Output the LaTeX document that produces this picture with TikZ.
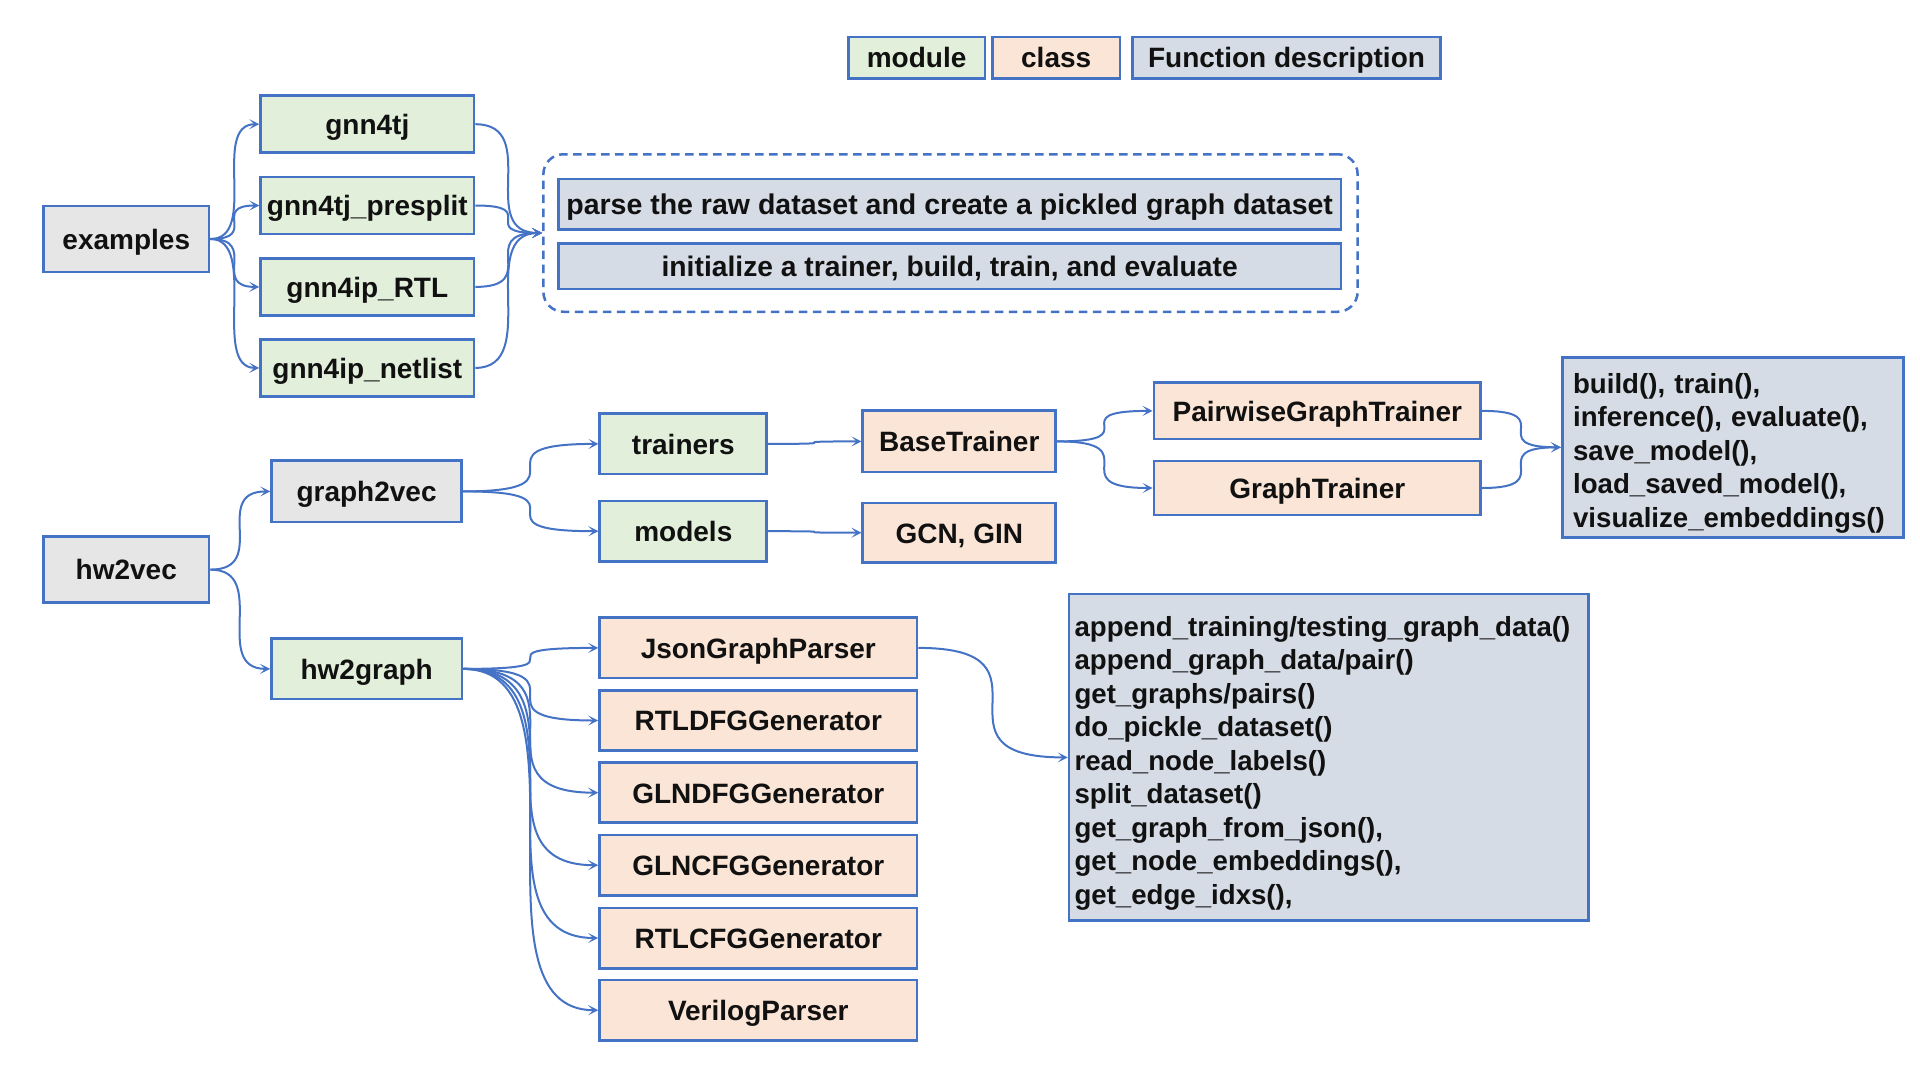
\documentclass[tikz,border=0pt]{standalone}
\usepackage{fontspec}
\setmainfont{Liberation Sans}
\usetikzlibrary{arrows.meta,calc}
\definecolor{bord}{HTML}{4472C4}
\definecolor{modfill}{HTML}{E2EFDA}
\definecolor{clsfill}{HTML}{FBE5D6}
\definecolor{fnfill}{HTML}{D6DCE5}
\definecolor{grfill}{HTML}{E7E6E6}
\definecolor{txt}{HTML}{111111}
\newcommand{\firstlinepad}{\rule{0pt}{12.5pt}}
\begin{document}
\begin{tikzpicture}[x=0.4pt,y=-0.4pt,
 bx/.style={draw=bord, line width=1.1pt, inner sep=0pt, text=txt,
   font=\fontsize{11.2pt}{13.4pt}\selectfont\bfseries},
 one/.style={text height=10.3pt, text depth=2pt},
 modb/.style={bx, one, fill=modfill},
 clsb/.style={bx, one, fill=clsfill},
 fnb/.style={bx, one, fill=fnfill},
 grb/.style={bx, one, fill=grfill},
 listb/.style={bx, fill=fnfill, align=left, font=\fontsize{11.05pt}{13.4pt}\selectfont\bfseries},
 arr/.style={draw=bord, line width=0.8pt, -{Stealth[length=4pt,width=4pt,inset=2pt]}},
 sc/.style={to path={.. controls (\tikztotarget |- \tikztostart) and (\tikztostart |- \tikztotarget) .. (\tikztotarget) \tikztonodes}}
]
\useasboundingbox (0,0) rectangle (1920,1080);

% legend
\node[modb, minimum width=54.7pt, minimum height=16.5pt] (lmod) at (916.6,57.6) {module};
\node[clsb, minimum width=51pt, minimum height=16.5pt] (lcls) at (1056.2,57.6) {class};
\node[fnb, minimum width=123.2pt, minimum height=16.5pt] (lfn) at (1286.5,57.6) {Function description};

% examples part
\node[grb, minimum width=66.2pt, minimum height=26.4pt] (ex) at (126.3,239) {examples};
\node[modb, minimum width=85.3pt, minimum height=22.8pt] (g1) at (367.3,124.2) {gnn4tj};
\node[modb, minimum width=85.3pt, minimum height=22.8pt] (g2) at (367.3,205.5) {gnn4tj\_presplit};
\node[modb, minimum width=85.3pt, minimum height=22.8pt] (g3) at (367.3,286.9) {gnn4ip\_RTL};
\node[modb, minimum width=85.3pt, minimum height=22.8pt] (g4) at (367.3,367.9) {gnn4ip\_netlist};

\node[draw=bord, line width=1pt, dash pattern=on 3.4pt off 2.2pt, rounded corners=8pt,
  minimum width=325.7pt, minimum height=63pt] (dbox) at (950.5,233) {};
\node[fnb, minimum width=313.1pt, minimum height=20.1pt, font=\fontsize{11.4pt}{13.4pt}\selectfont\bfseries] (parse) at (949.7,204.2)
  {parse the raw dataset and create a pickled graph dataset};
\node[fnb, minimum width=313.1pt, minimum height=18.1pt, font=\fontsize{11.3pt}{13.4pt}\selectfont\bfseries] (init) at (949.7,266.4)
  {initialize a trainer, build, train, and evaluate};

% hw2vec part
\node[grb, minimum width=66.2pt, minimum height=26.3pt] (hw) at (126.3,569.6) {hw2vec};
\node[grb, minimum width=76pt, minimum height=24.5pt] (g2v) at (366.6,491.4) {graph2vec};
\node[modb, minimum width=76.2pt, minimum height=24.1pt] (h2g) at (366.7,668.9) {hw2graph};
\node[modb, minimum width=66.8pt, minimum height=24.1pt] (tr) at (683.3,443.9) {trainers};
\node[modb, minimum width=66.8pt, minimum height=24.1pt] (md) at (683.3,531.2) {models};
\node[clsb, minimum width=77.2pt, minimum height=24.5pt] (bt) at (959.3,441.4) {BaseTrainer};
\node[clsb, minimum width=77.2pt, minimum height=23.7pt] (gcn) at (959.3,532.7) {GCN, GIN};
\node[clsb, minimum width=130.7pt, minimum height=22.5pt] (pgt) at (1317.3,410.9) {PairwiseGraphTrainer};
\node[clsb, minimum width=130.7pt, minimum height=21.6pt] (gt) at (1317.3,488) {GraphTrainer};
\node[listb, minimum width=136.6pt, minimum height=72pt, inner xsep=4.3pt, text width=128pt] (l1) at (1733.1,447.3)
  {\firstlinepad build(), train(),\\inference(), evaluate(),\\save\_model(),\\load\_saved\_model(),\\visualize\_embeddings()};

\node[clsb, minimum width=127pt, minimum height=24.1pt] (jgp) at (758.3,647.9) {JsonGraphParser};
\node[clsb, minimum width=127pt, minimum height=24.1pt] (rdfg) at (758.3,720.5) {RTLDFGGenerator};
\node[clsb, minimum width=127pt, minimum height=24.1pt] (gdfg) at (758.3,792.7) {GLNDFGGenerator};
\node[clsb, minimum width=127pt, minimum height=24.1pt] (gcfg) at (758.3,865.2) {GLNCFGGenerator};
\node[clsb, minimum width=127pt, minimum height=24.1pt] (rcfg) at (758.3,938) {RTLCFGGenerator};
\node[clsb, minimum width=127pt, minimum height=24.1pt] (vp) at (758.3,1010.2) {VerilogParser};
\node[listb, minimum width=207.8pt, minimum height=130.7pt, inner xsep=2.2pt, text width=203.4pt] (l2) at (1328.8,757.4)
  {\firstlinepad append\_training/testing\_graph\_data()\\append\_graph\_data/pair()\\get\_graphs/pairs()\\do\_pickle\_dataset()\\read\_node\_labels()\\split\_dataset()\\get\_graph\_from\_json(),\\get\_node\_embeddings(),\\get\_edge\_idxs(),};

% connectors
\foreach \t in {g1,g2,g3,g4} {
  \draw[arr] (ex.east) to[sc] (\t.west);
  \draw[arr] (\t.east) to[sc] (dbox.west);
}
\draw[arr] (hw.east) to[sc] (g2v.west);
\draw[arr] (hw.east) to[sc] (h2g.west);
\draw[arr] (g2v.east) to[sc] (tr.west);
\draw[arr] (g2v.east) to[sc] (md.west);
\draw[arr] (tr.east) to[sc] (bt.west);
\draw[arr] (md.east) to[sc] (gcn.west);
\draw[arr] (bt.east) to[sc] (pgt.west);
\draw[arr] (bt.east) to[sc] (gt.west);
\draw[arr] (pgt.east) to[sc] (l1.west);
\draw[arr] (gt.east) to[sc] (l1.west);
\foreach \t in {jgp,rdfg,gdfg,gcfg,rcfg,vp} {
  \draw[arr] (h2g.east) to[sc] (\t.west);
}
\draw[arr] (jgp.east) to[sc] (l2.west);
\end{tikzpicture}
\end{document}
